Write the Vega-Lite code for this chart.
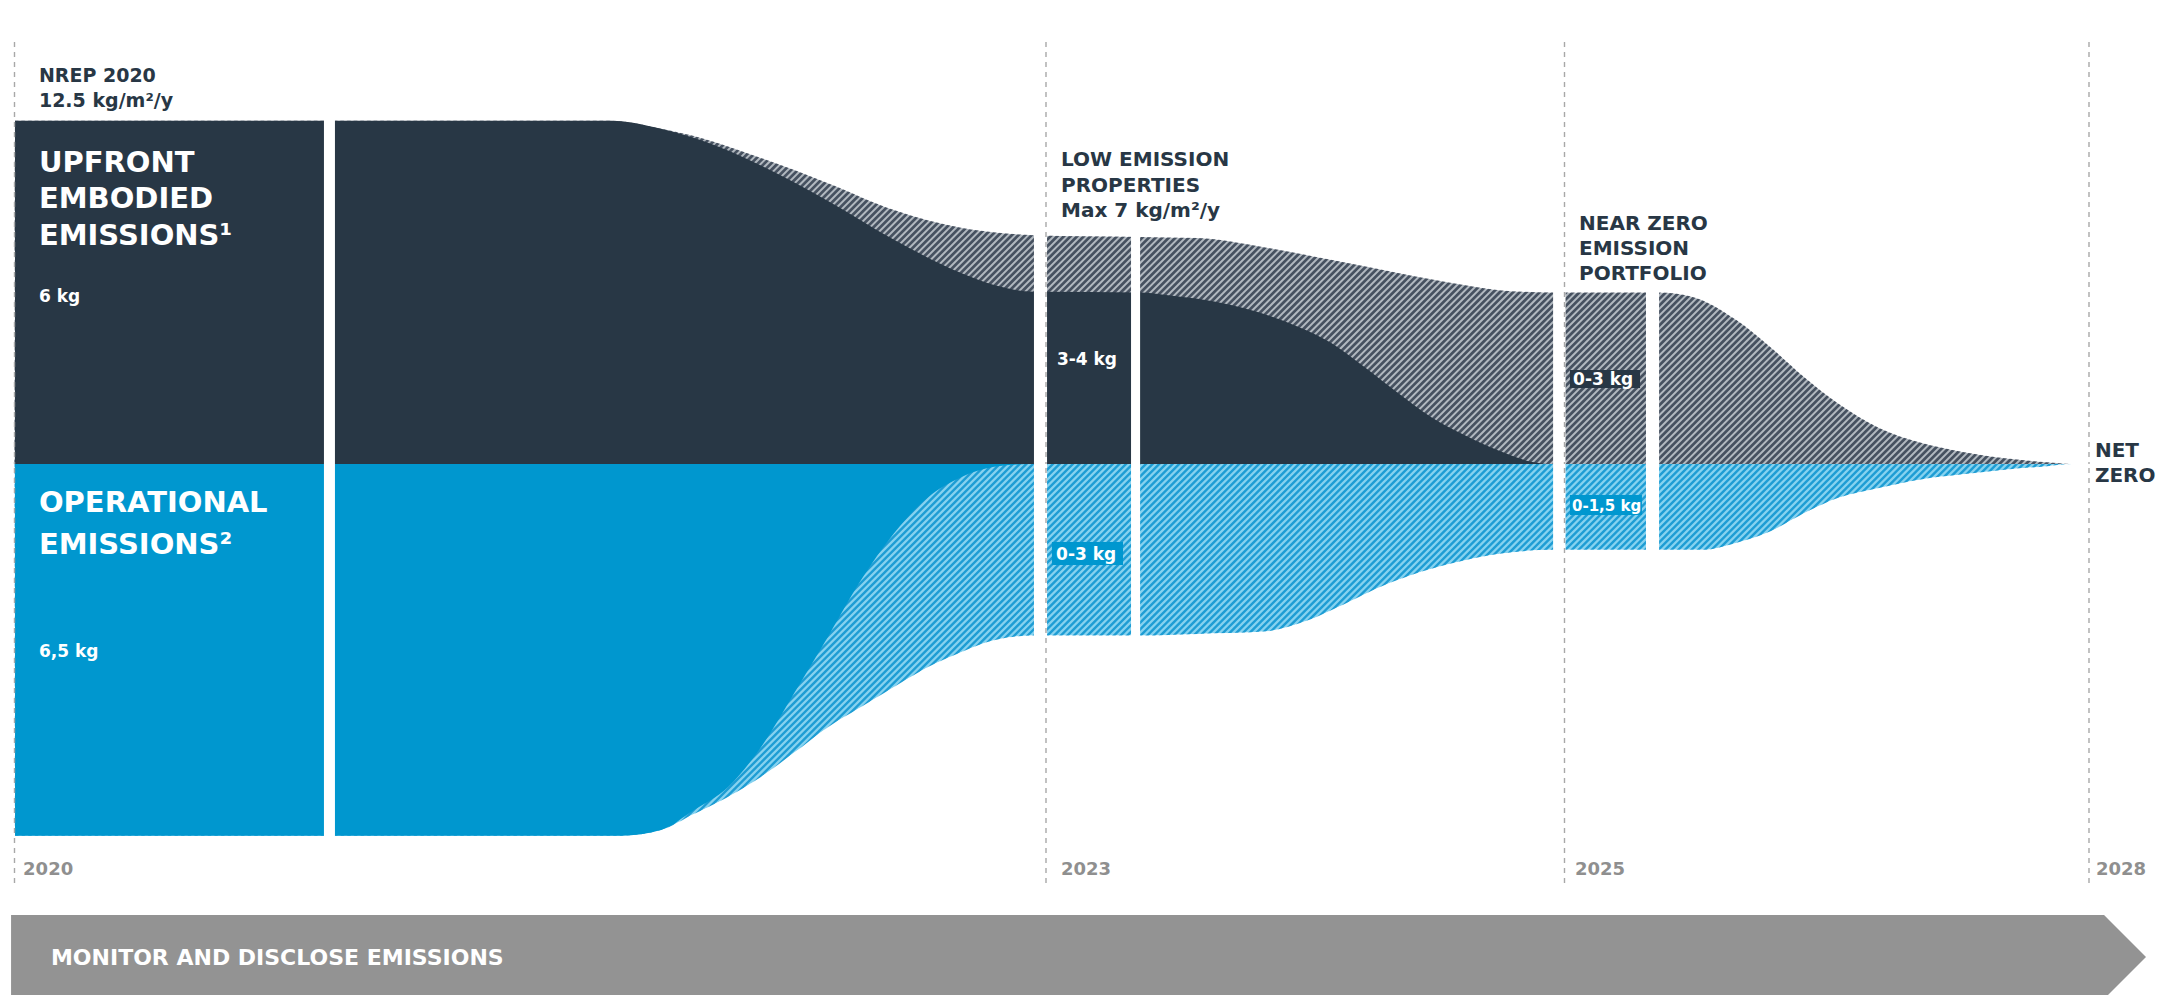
{
  "$schema": "https://vega.github.io/schema/vega-lite/v6.json",
  "padding": 0,
  "background": "#ffffff",
  "spacing": 0,
  "bounds": "flush",
  "config": {"view": {"stroke": null}},
  "resolve": {"scale": {"x": "independent", "y": "independent"}},
  "datasets": {
    "grayTop": [
      {"x": 2019.9607, "y": 0}, {"x": 2020.0, "y": 0}, {"x": 2020.0015, "y": 6.0}, {"x": 2021.735, "y": 6.0},
      {"x": 2021.88, "y": 5.86}, {"x": 2021.997, "y": 5.7}, {"x": 2022.171, "y": 5.35}, {"x": 2022.366, "y": 4.91},
      {"x": 2022.558, "y": 4.44}, {"x": 2022.753, "y": 4.13}, {"x": 2022.869, "y": 4.04}, {"x": 2022.965, "y": 4.0},
      {"x": 2023.363, "y": 3.97}, {"x": 2023.586, "y": 3.95}, {"x": 2023.841, "y": 3.79}, {"x": 2024.099, "y": 3.57},
      {"x": 2024.358, "y": 3.34}, {"x": 2024.612, "y": 3.13}, {"x": 2024.794, "y": 3.02}, {"x": 2024.956, "y": 3.0},
      {"x": 2025.541, "y": 3.0}, {"x": 2025.724, "y": 2.93}, {"x": 2025.981, "y": 2.52}, {"x": 2026.175, "y": 2.05},
      {"x": 2026.37, "y": 1.52}, {"x": 2026.559, "y": 1.07}, {"x": 2026.799, "y": 0.63}, {"x": 2027.039, "y": 0.37},
      {"x": 2027.279, "y": 0.21}, {"x": 2027.52, "y": 0.1}, {"x": 2027.76, "y": 0.03}, {"x": 2027.903, "y": 0.0},
      {"x": 2028.406, "y": 0}
    ],
    "darkTop": [
      {"x": 2020.0015, "y": 6.0}, {"x": 2021.735, "y": 6.0}, {"x": 2021.88, "y": 5.86}, {"x": 2021.997, "y": 5.66},
      {"x": 2022.171, "y": 5.22}, {"x": 2022.366, "y": 4.6}, {"x": 2022.558, "y": 3.92}, {"x": 2022.753, "y": 3.34},
      {"x": 2022.849, "y": 3.13}, {"x": 2022.965, "y": 3.01}, {"x": 2023.363, "y": 3.0}, {"x": 2023.455, "y": 2.96},
      {"x": 2023.714, "y": 2.78}, {"x": 2023.972, "y": 2.4}, {"x": 2024.099, "y": 2.12}, {"x": 2024.227, "y": 1.7},
      {"x": 2024.358, "y": 1.24}, {"x": 2024.485, "y": 0.82}, {"x": 2024.612, "y": 0.51}, {"x": 2024.743, "y": 0.24},
      {"x": 2024.871, "y": 0.04}, {"x": 2024.929, "y": 0}
    ],
    "blueOuter": [
      {"x": 2019.9607, "y": 0}, {"x": 2020.0, "y": 0}, {"x": 2020.0015, "y": -6.5}, {"x": 2021.764, "y": -6.5},
      {"x": 2021.88, "y": -6.4}, {"x": 2021.976, "y": -6.12}, {"x": 2022.075, "y": -5.82}, {"x": 2022.171, "y": -5.47},
      {"x": 2022.267, "y": -5.05}, {"x": 2022.366, "y": -4.6}, {"x": 2022.462, "y": -4.25}, {"x": 2022.558, "y": -3.9},
      {"x": 2022.657, "y": -3.55}, {"x": 2022.753, "y": -3.29}, {"x": 2022.849, "y": -3.08}, {"x": 2022.965, "y": -3.0},
      {"x": 2023.363, "y": -3.0}, {"x": 2023.586, "y": -2.97}, {"x": 2023.841, "y": -2.93}, {"x": 2024.0, "y": -2.75},
      {"x": 2024.15, "y": -2.45}, {"x": 2024.3, "y": -2.13}, {"x": 2024.45, "y": -1.88}, {"x": 2024.6, "y": -1.7},
      {"x": 2024.75, "y": -1.57}, {"x": 2024.956, "y": -1.5}, {"x": 2025.792, "y": -1.5}, {"x": 2025.981, "y": -1.38},
      {"x": 2026.175, "y": -1.18}, {"x": 2026.37, "y": -0.86}, {"x": 2026.559, "y": -0.6}, {"x": 2026.799, "y": -0.42},
      {"x": 2027.039, "y": -0.27}, {"x": 2027.279, "y": -0.18}, {"x": 2027.52, "y": -0.1}, {"x": 2027.76, "y": -0.04},
      {"x": 2027.903, "y": 0}, {"x": 2028.406, "y": 0}
    ],
    "blueSolid": [
      {"x": 2020.0015, "y": -6.5}, {"x": 2021.764, "y": -6.5}, {"x": 2021.88, "y": -6.4}, {"x": 2021.976, "y": -6.05},
      {"x": 2022.075, "y": -5.65}, {"x": 2022.171, "y": -4.95}, {"x": 2022.267, "y": -4.01}, {"x": 2022.366, "y": -3.02},
      {"x": 2022.462, "y": -2.03}, {"x": 2022.558, "y": -1.21}, {"x": 2022.657, "y": -0.58}, {"x": 2022.753, "y": -0.23},
      {"x": 2022.849, "y": -0.05}, {"x": 2022.948, "y": 0}
    ],
    "gaps": [
      {"x": 2020.9, "x2": 2020.932, "hi": 7, "lo": -7}, {"x": 2022.965, "x2": 2023.004, "hi": 7, "lo": -7},
      {"x": 2023.328, "x2": 2023.363, "hi": 7, "lo": -7}, {"x": 2024.956, "x2": 2025.006, "hi": 7, "lo": -7},
      {"x": 2025.466, "x2": 2025.541, "hi": 7, "lo": -7}
    ],
    "years": [
      {"x": 2020, "hi": 7.378, "lo": -7.325}, {"x": 2023, "hi": 7.378, "lo": -7.325},
      {"x": 2025, "hi": 7.378, "lo": -7.325}, {"x": 2028, "hi": 7.378, "lo": -7.325}
    ],
    "hatchTop": [{"x": 2021.147, "y": 15.804, "x2": 2026.078, "y2": -7.692}],
    "hatchBottom": [{"x": 2021.097, "y": 7.411, "x2": 2026.178, "y2": -16.694}],
    "banner": [
      {"x": 2019.99, "y": -7.885, "y2": -9.353},
      {"x": 2028.086, "y": -7.885, "y2": -9.353},
      {"x": 2028.326, "y": -8.619, "y2": -8.619}
    ]
  },
  "vconcat": [
    {
      "width": 2159,
      "height": 464,
      "encoding": {
        "x": {"field": "x", "type": "quantitative", "scale": {"domain": [2020, 2023, 2025, 2028], "range": [13.5, 1045, 1563.5, 2088], "zero": false, "nice": false}, "axis": null},
        "y": {"field": "y", "type": "quantitative", "scale": {"domain": [0, 8.112], "zero": false, "nice": false}, "axis": null, "stack": null}
      },
      "layer": [
        {"data": {"name": "grayTop"}, "mark": {"type": "area", "interpolate": "monotone", "color": "#b1b8bf"}, "encoding": {"y2": {"datum": 0}}},
        {"data": {"name": "hatchTop"}, "mark": {"type": "rule", "color": "#465160", "strokeWidth": 1900, "strokeDash": [2.7, 2.0], "clip": true}, "encoding": {"x2": {"field": "x2"}, "y2": {"field": "y2"}}},
        {"data": {"name": "grayTop"}, "mark": {"type": "area", "interpolate": "monotone", "color": "#ffffff"}, "encoding": {"y2": {"datum": 8.112}}},
        {"data": {"name": "darkTop"}, "mark": {"type": "area", "interpolate": "monotone", "color": "#283745"}, "encoding": {"y2": {"datum": 0}}},
        {"data": {"name": "gaps"}, "mark": {"type": "rect", "color": "#ffffff"}, "encoding": {"x2": {"field": "x2"}, "y": {"field": "hi"}, "y2": {"datum": 0}}},
        {"data": {"name": "years"}, "mark": {"type": "rule", "color": "#a8a8a8", "strokeWidth": 1.4, "strokeDash": [5, 5]}, "encoding": {"y": {"field": "hi"}, "y2": {"datum": 0}}},
        {"data": {"values": [{"x": 2025.031, "x2": 2025.432, "y": 1.643, "y2": 1.329}]}, "mark": {"type": "rect", "color": "#283745"}, "encoding": {"x2": {"field": "x2"}, "y2": {"field": "y2"}}},
        {"data": {"values": [{"t": "NREP 2020", "x": 2020.071, "y": 6.678}, {"t": "12.5 kg/m²/y", "x": 2020.071, "y": 6.241}]},
         "mark": {"type": "text", "align": "left", "baseline": "alphabetic", "font": "DejaVu Sans", "fontWeight": "bold", "fontSize": 19, "color": "#283745"}, "encoding": {"text": {"field": "t"}}},
        {"data": {"values": [{"t": "UPFRONT", "x": 2020.071, "y": 5.11}, {"t": "EMBODIED", "x": 2020.071, "y": 4.47}, {"t": "EMISSIONS¹", "x": 2020.071, "y": 3.83}]},
         "mark": {"type": "text", "align": "left", "baseline": "alphabetic", "font": "DejaVu Sans", "fontWeight": "bold", "fontSize": 29, "color": "#ffffff"}, "encoding": {"text": {"field": "t"}}},
        {"data": {"values": [{"t": "6 kg", "x": 2020.071, "y": 2.836}, {"t": "3-4 kg", "x": 2023.042, "y": 1.73}]},
         "mark": {"type": "text", "align": "left", "baseline": "alphabetic", "font": "DejaVu Sans", "fontWeight": "bold", "fontSize": 17, "color": "#ffffff"}, "encoding": {"text": {"field": "t"}}},
        {"data": {"values": [
          {"t": "LOW EMISSION", "x": 2023.058, "y": 5.21}, {"t": "PROPERTIES", "x": 2023.058, "y": 4.755}, {"t": "Max 7 kg/m²/y", "x": 2023.058, "y": 4.318},
          {"t": "NEAR ZERO", "x": 2025.083, "y": 4.09}, {"t": "EMISSION", "x": 2025.083, "y": 3.654}, {"t": "PORTFOLIO", "x": 2025.083, "y": 3.217},
          {"t": "NET", "x": 2028.034, "y": 0.122}]},
         "mark": {"type": "text", "align": "left", "baseline": "alphabetic", "font": "DejaVu Sans", "fontWeight": "bold", "fontSize": 20, "color": "#283745"}, "encoding": {"text": {"field": "t"}}},
        {"data": {"values": [{"t": "0-3 kg", "x": 2025.049, "y": 1.381}]},
         "mark": {"type": "text", "align": "left", "baseline": "alphabetic", "font": "DejaVu Sans", "fontWeight": "bold", "fontSize": 17, "color": "#ffffff"}, "encoding": {"text": {"field": "t"}}}
      ]
    },
    {
      "width": 2159,
      "height": 531,
      "encoding": {
        "x": {"field": "x", "type": "quantitative", "scale": {"domain": [2020, 2023, 2025, 2028], "range": [13.5, 1045, 1563.5, 2088], "zero": false, "nice": false}, "axis": null},
        "y": {"field": "y", "type": "quantitative", "scale": {"domain": [-9.283, 0], "zero": false, "nice": false}, "axis": null, "stack": null}
      },
      "layer": [
        {"data": {"name": "blueOuter"}, "mark": {"type": "area", "interpolate": "monotone", "color": "#86d2ef"}, "encoding": {"y2": {"datum": 0}}},
        {"data": {"name": "hatchBottom"}, "mark": {"type": "rule", "color": "#1e9dd4", "strokeWidth": 1950, "strokeDash": [2.4, 2.3], "clip": true}, "encoding": {"x2": {"field": "x2"}, "y2": {"field": "y2"}}},
        {"data": {"name": "blueOuter"}, "mark": {"type": "area", "interpolate": "monotone", "color": "#ffffff"}, "encoding": {"y2": {"datum": -9.283}}},
        {"data": {"name": "blueSolid"}, "mark": {"type": "area", "interpolate": "monotone", "color": "#0097cf"}, "encoding": {"y2": {"datum": 0}}},
        {"data": {"name": "gaps"}, "mark": {"type": "rect", "color": "#ffffff"}, "encoding": {"x2": {"field": "x2"}, "y": {"field": "lo"}, "y2": {"datum": 0}}},
        {"data": {"name": "years"}, "mark": {"type": "rule", "color": "#a8a8a8", "strokeWidth": 1.4, "strokeDash": [5, 5]}, "encoding": {"y": {"field": "lo"}, "y2": {"datum": 0}}},
        {"data": {"name": "banner"}, "mark": {"type": "area", "color": "#939393"}, "encoding": {"y2": {"field": "y2"}}},
        {"data": {"values": [{"x": 2023.023, "x2": 2023.297, "y": -1.364, "y2": -1.766}, {"x": 2025.031, "x2": 2025.443, "y": -0.542, "y2": -0.892}]},
         "mark": {"type": "rect", "color": "#0097cf"}, "encoding": {"x2": {"field": "x2"}, "y2": {"field": "y2"}}},
        {"data": {"values": [{"t": "OPERATIONAL", "x": 2020.071, "y": -0.839}, {"t": "EMISSIONS²", "x": 2020.071, "y": -1.565}]},
         "mark": {"type": "text", "align": "left", "baseline": "alphabetic", "font": "DejaVu Sans", "fontWeight": "bold", "fontSize": 29, "color": "#ffffff"}, "encoding": {"text": {"field": "t"}}},
        {"data": {"values": [{"t": "6,5 kg", "x": 2020.071, "y": -3.374}]},
         "mark": {"type": "text", "align": "left", "baseline": "alphabetic", "font": "DejaVu Sans", "fontWeight": "bold", "fontSize": 17, "color": "#ffffff"}, "encoding": {"text": {"field": "t"}}},
        {"data": {"values": [{"t": "0-3 kg", "x": 2023.039, "y": -1.678}]},
         "mark": {"type": "text", "align": "left", "baseline": "alphabetic", "font": "DejaVu Sans", "fontWeight": "bold", "fontSize": 17, "color": "#ffffff"}, "encoding": {"text": {"field": "t"}}},
        {"data": {"values": [{"t": "0-1,5 kg", "x": 2025.043, "y": -0.822}]},
         "mark": {"type": "text", "align": "left", "baseline": "alphabetic", "font": "DejaVu Sans", "fontWeight": "bold", "fontSize": 15, "color": "#ffffff"}, "encoding": {"text": {"field": "t"}}},
        {"data": {"values": [{"t": "ZERO", "x": 2028.034, "y": -0.315}]},
         "mark": {"type": "text", "align": "left", "baseline": "alphabetic", "font": "DejaVu Sans", "fontWeight": "bold", "fontSize": 20, "color": "#283745"}, "encoding": {"text": {"field": "t"}}},
        {"data": {"values": [{"t": "2020", "x": 2020.025, "y": -7.19}, {"t": "2023", "x": 2023.058, "y": -7.19}, {"t": "2025", "x": 2025.06, "y": -7.19}, {"t": "2028", "x": 2028.04, "y": -7.19}]},
         "mark": {"type": "text", "align": "left", "baseline": "alphabetic", "font": "DejaVu Sans", "fontWeight": "bold", "fontSize": 18, "color": "#8f8f8f"}, "encoding": {"text": {"field": "t"}}},
        {"data": {"values": [{"t": "MONITOR AND DISCLOSE EMISSIONS", "x": 2020.106, "y": -8.759}]},
         "mark": {"type": "text", "align": "left", "baseline": "alphabetic", "font": "DejaVu Sans", "fontWeight": "bold", "fontSize": 22, "color": "#ffffff"}, "encoding": {"text": {"field": "t"}}}
      ]
    }
  ]
}
